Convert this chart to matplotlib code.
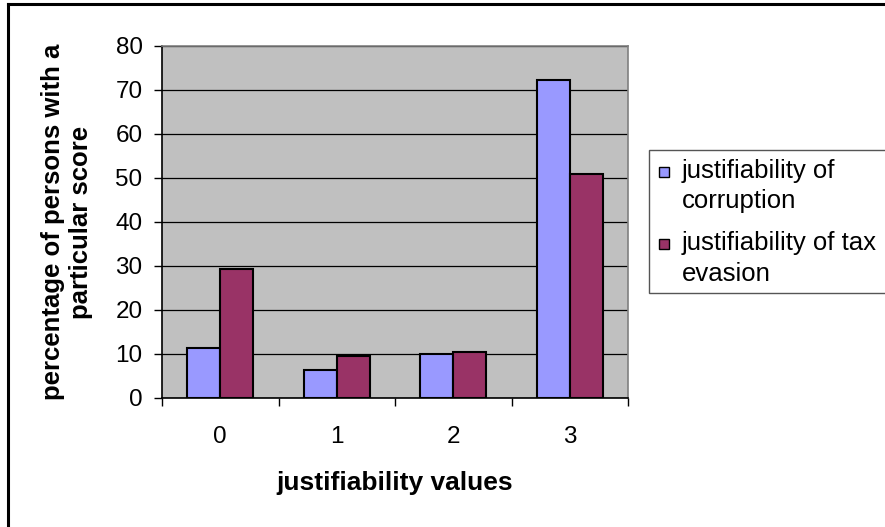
import numpy as np
import matplotlib
matplotlib.use('Agg')
import matplotlib.pyplot as plt
from matplotlib.lines import Line2D
from matplotlib.patches import Rectangle

plt.rcParams['font.family'] = ['Liberation Sans', 'DejaVu Sans']

# Data.
categories = ['0', '1', '2', '3']
corruption = [11.3, 6.3, 10.0, 72.2]
tax_evasion = [29.4, 9.5, 10.4, 50.8]
series_labels = [['justifiability of', 'corruption'], ['justifiability of tax', 'evasion']]
series_colors = ['#9999FF', '#993366']
y_ticks = [0, 10, 20, 30, 40, 50, 60, 70, 80]

W, H = 885, 527
fig = plt.figure(figsize=(W / 100, H / 100), dpi=100)
ax = fig.add_axes([162 / W, 1 - 398 / H, (628 - 162) / W, (398 - 46) / H])


def px(x, y):
    # pixel position (top-left origin) -> figure fraction
    return x / W, 1 - y / H


x = np.arange(len(categories))
width = 0.283

ax.bar(x - width / 2, corruption, width, color=series_colors[0], edgecolor='black',
       linewidth=1.5, zorder=3)
ax.bar(x + width / 2, tax_evasion, width, color=series_colors[1], edgecolor='black',
       linewidth=1.5, zorder=3)

ax.set_facecolor('#C0C0C0')
ax.set_xlim(-0.5, len(categories) - 0.5)
ax.set_ylim(0, 80)
ax.set_yticks(y_ticks)
ax.yaxis.grid(True, color='black', linewidth=0.9, zorder=1)
ax.set_axisbelow(True)

# Category ticks sit on the boundaries, labels in the middle.
ax.set_xticks(np.arange(len(categories) + 1) - 0.5)
ax.set_xticklabels([])
ax.set_xticks(x, minor=True)
ax.set_xticklabels(categories, minor=True)
ax.tick_params(axis='x', which='minor', length=0, pad=20, labelsize=17.5)
ax.tick_params(axis='x', which='major', length=6, width=1, direction='out')
ax.tick_params(axis='y', length=6, width=1, direction='out', labelsize=17.5, pad=8)

for side in ['top', 'right']:
    ax.spines[side].set_color('#808080')
    ax.spines[side].set_linewidth(1.2)
for side in ['left', 'bottom']:
    ax.spines[side].set_color('black')
    ax.spines[side].set_linewidth(1.2)

ax.set_ylabel('percentage of persons with a\nparticular score', fontsize=18.5, fontweight='bold',
              labelpad=16, linespacing=1.2)
ax.set_xlabel('justifiability values', fontsize=19, fontweight='bold', labelpad=17)

# Legend box, drawn by hand so the markers sit on the first line of each entry.
x0, y0 = px(649, 293)
x1, y1 = px(W + 5, 150)
fig.add_artist(Rectangle((x0, y0), x1 - x0, y1 - y0, transform=fig.transFigure,
                         facecolor='white', edgecolor='#555555', linewidth=1.0, clip_on=False))
line_y = [[178, 208], [250, 281]]
for lines, ys, color in zip(series_labels, line_y, series_colors):
    sx, sy = px(659, ys[0] - 1)
    fig.add_artist(Rectangle((sx, sy), 10 / W, 10 / H, transform=fig.transFigure,
                             facecolor=color, edgecolor='black', linewidth=1.0))
    for text, ty in zip(lines, ys):
        tx, tyf = px(682, ty)
        fig.text(tx, tyf, text, fontsize=18.5, va='baseline', ha='left')

# Outer chart border (cut off at bottom and right in the reference).
fig.add_artist(Line2D([7.5 / W, 7.5 / W], [0, 1 - 4 / H], color='black', linewidth=2.2,
                      transform=fig.transFigure))
fig.add_artist(Line2D([7.5 / W, 1], [1 - 4 / H, 1 - 4 / H], color='black', linewidth=2.2,
                      transform=fig.transFigure))

fig.savefig('out.png', dpi=100)
